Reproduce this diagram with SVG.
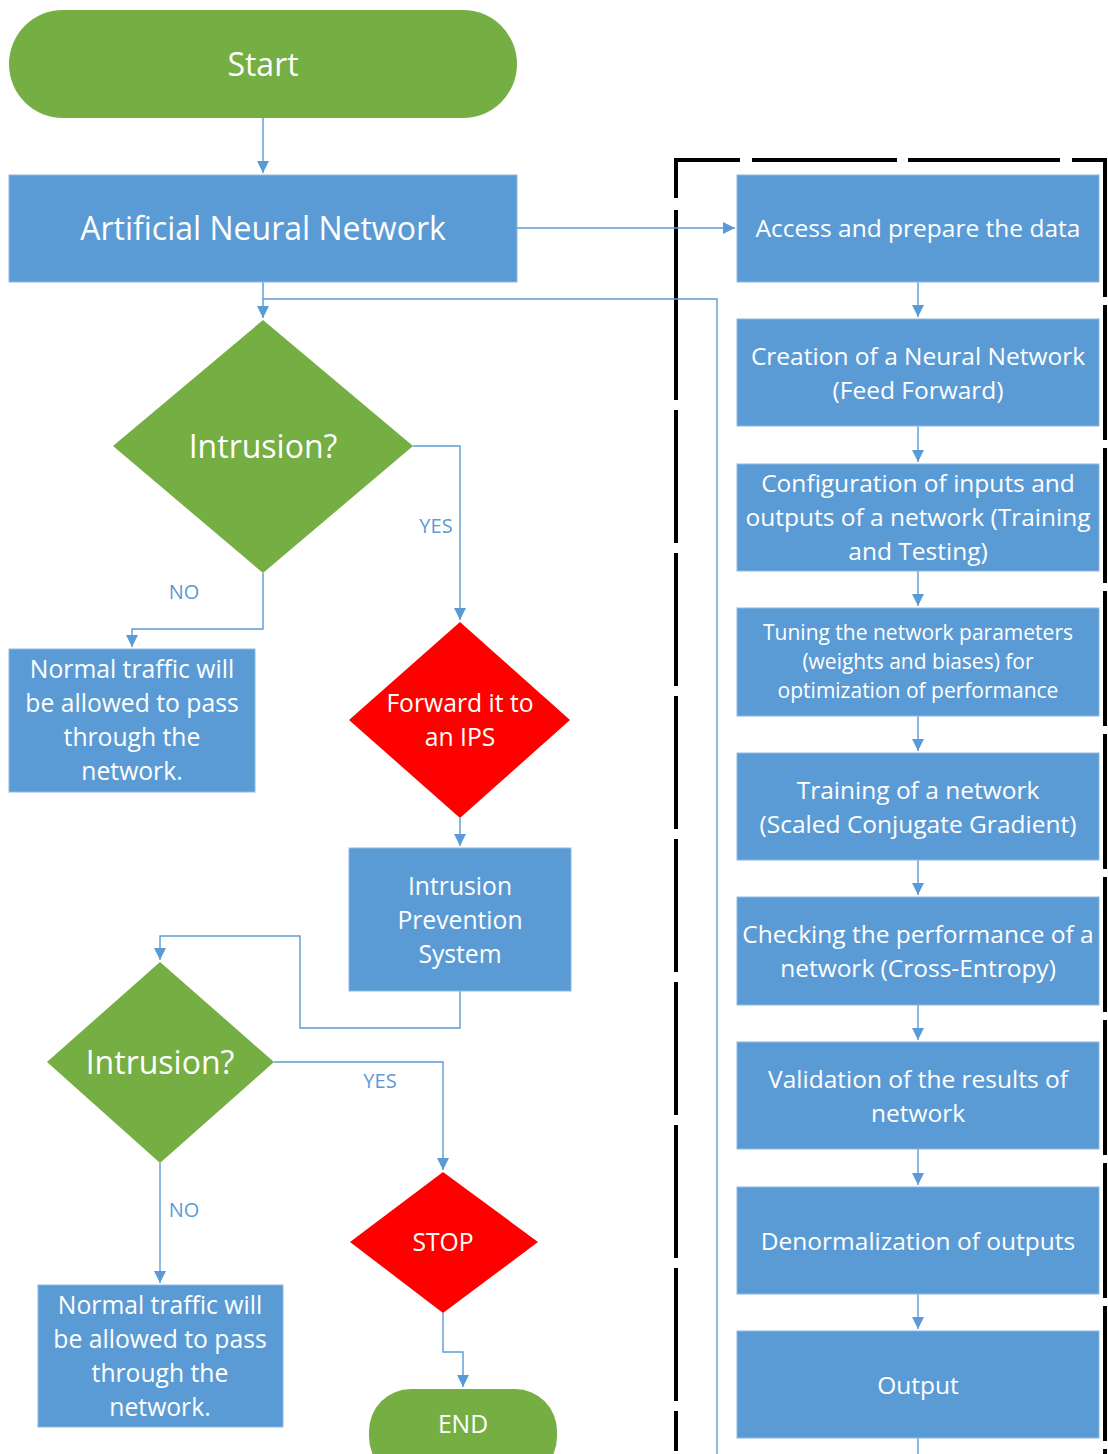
<svg xmlns="http://www.w3.org/2000/svg" width="1108" height="1454" viewBox="0 0 1108 1454">
<defs>
<marker id="ah" viewBox="0 0 10 10" refX="10" refY="5" markerWidth="12" markerHeight="12" markerUnits="userSpaceOnUse" orient="auto">
<path d="M0,0 L10,5 L0,10 z" fill="#5b9bd5"/>
</marker>
<style>
.g{fill:#75ae43}
.b{fill:#5b9bd5;stroke:#8db8e3;stroke-width:1}
.r{fill:#ff0000}
.t{font-family:"Open Sans","Liberation Sans",sans-serif;fill:#ffffff;text-anchor:middle}
.l{font-family:"Open Sans","Liberation Sans",sans-serif;fill:#5b9bd5;text-anchor:middle;font-size:20px}
.c{fill:none;stroke:#5b9bd5;stroke-width:1.4}
.d{fill:none;stroke:#000000;stroke-width:4}
</style>
</defs>
<rect width="1108" height="1454" fill="#ffffff"/>

<g id="frame">
<line class="d" x1="676" y1="160" x2="1105" y2="160" stroke-dasharray="64 12 145 11 152 12 40"/>
<line class="d" x1="676" y1="158" x2="676" y2="1454" stroke-dasharray="40 12 190 10 133 10 133 10 133 10 133 10 133 10 133 10 133 10"/>
<line class="d" x1="1105" y1="158" x2="1105" y2="1454" stroke-dasharray="139 8 135 8 135 8 135 8 135 8 135 8 135 8 135 8 135 8 135 8"/>
</g>

<g id="connectors">
<path class="c" d="M263,118 V173" marker-end="url(#ah)"/>
<path class="c" d="M517,228 H735" marker-end="url(#ah)"/>
<path class="c" d="M263,282 V318" marker-end="url(#ah)"/>
<path class="c" d="M717,1454 V299 H263"/>
<path class="c" d="M413,446 H460 V620" marker-end="url(#ah)"/>
<path class="c" d="M263,573 V629 H132 V647" marker-end="url(#ah)"/>
<path class="c" d="M460,818 V846" marker-end="url(#ah)"/>
<path class="c" d="M460,991 V1028 H300 V936 H160 V960" marker-end="url(#ah)"/>
<path class="c" d="M274,1062 H443 V1170" marker-end="url(#ah)"/>
<path class="c" d="M160,1163 V1283" marker-end="url(#ah)"/>
<path class="c" d="M443,1313 V1352 H463 V1387" marker-end="url(#ah)"/>
<path class="c" d="M918,282 V317" marker-end="url(#ah)"/>
<path class="c" d="M918,426 V462" marker-end="url(#ah)"/>
<path class="c" d="M918,571 V606" marker-end="url(#ah)"/>
<path class="c" d="M918,716 V751" marker-end="url(#ah)"/>
<path class="c" d="M918,860 V895" marker-end="url(#ah)"/>
<path class="c" d="M918,1005 V1040" marker-end="url(#ah)"/>
<path class="c" d="M918,1149 V1185" marker-end="url(#ah)"/>
<path class="c" d="M918,1294 V1329" marker-end="url(#ah)"/>
<path class="c" d="M918,1438 V1454"/>
<text class="l" x="436" y="533">YES</text>
<text class="l" x="184" y="599">NO</text>
<text class="l" x="380" y="1088">YES</text>
<text class="l" x="184" y="1217">NO</text>
</g>

<g id="start">
<rect class="g" x="9" y="10" width="508" height="108" rx="54"/>
<text class="t" x="263" y="76" font-size="32">Start</text>
</g>

<g id="ann">
<rect class="b" x="9" y="175" width="508" height="107"/>
<text class="t" x="263" y="240" font-size="32">Artificial Neural Network</text>
</g>

<g id="intrusion1">
<polygon class="g" points="263,320 413,446 263,573 113,446"/>
<text class="t" x="263" y="458" font-size="32">Intrusion?</text>
</g>

<g id="normal1">
<rect class="b" x="9" y="649" width="246" height="143"/>
<text class="t" font-size="24.7"><tspan x="132" y="678">Normal traffic will</tspan><tspan x="132" y="712">be allowed to pass</tspan><tspan x="132" y="746">through the</tspan><tspan x="132" y="780">network.</tspan></text>
</g>

<g id="forward">
<polygon class="r" points="460,622 570,720 460,818 349,720"/>
<text class="t" font-size="24.7"><tspan x="460" y="712">Forward it to</tspan><tspan x="460" y="746">an IPS</tspan></text>
</g>

<g id="ips">
<rect class="b" x="349" y="848" width="222" height="143"/>
<text class="t" font-size="24.7"><tspan x="460" y="895">Intrusion</tspan><tspan x="460" y="929">Prevention</tspan><tspan x="460" y="963">System</tspan></text>
</g>

<g id="intrusion2">
<polygon class="g" points="160,962 274,1062 160,1163 47,1062"/>
<text class="t" x="160" y="1074" font-size="32">Intrusion?</text>
</g>

<g id="normal2">
<rect class="b" x="38" y="1285" width="245" height="142"/>
<text class="t" font-size="24.7"><tspan x="160" y="1314">Normal traffic will</tspan><tspan x="160" y="1348">be allowed to pass</tspan><tspan x="160" y="1382">through the</tspan><tspan x="160" y="1416">network.</tspan></text>
</g>

<g id="stop">
<polygon class="r" points="443,1172 538,1242 443,1313 350,1242"/>
<text class="t" x="443" y="1251" font-size="24.7">STOP</text>
</g>

<g id="end">
<rect class="g" x="369" y="1389" width="188" height="90" rx="42"/>
<text class="t" x="463" y="1433" font-size="24.7">END</text>
</g>

<g id="step1">
<rect class="b" x="737" y="175" width="362" height="107"/>
<text class="t" x="918" y="237" font-size="24.5">Access and prepare the data</text>
</g>
<g id="step2">
<rect class="b" x="737" y="319" width="362" height="107"/>
<text class="t" font-size="24.5"><tspan x="918" y="365">Creation of a Neural Network</tspan><tspan x="918" y="399">(Feed Forward)</tspan></text>
</g>
<g id="step3">
<rect class="b" x="737" y="464" width="362" height="107"/>
<text class="t" font-size="24.5"><tspan x="918" y="492">Configuration of inputs and</tspan><tspan x="918" y="526">outputs of a network (Training</tspan><tspan x="918" y="560">and Testing)</tspan></text>
</g>
<g id="step4">
<rect class="b" x="737" y="608" width="362" height="108"/>
<text class="t" font-size="21"><tspan x="918" y="640">Tuning the network parameters</tspan><tspan x="918" y="669">(weights and biases) for</tspan><tspan x="918" y="698">optimization of performance</tspan></text>
</g>
<g id="step5">
<rect class="b" x="737" y="753" width="362" height="107"/>
<text class="t" font-size="24.5"><tspan x="918" y="799">Training of a network</tspan><tspan x="918" y="833">(Scaled Conjugate Gradient)</tspan></text>
</g>
<g id="step6">
<rect class="b" x="737" y="897" width="362" height="108"/>
<text class="t" font-size="24.5"><tspan x="918" y="943">Checking the performance of a</tspan><tspan x="918" y="977">network (Cross-Entropy)</tspan></text>
</g>
<g id="step7">
<rect class="b" x="737" y="1042" width="362" height="107"/>
<text class="t" font-size="24.5"><tspan x="918" y="1088">Validation of the results of</tspan><tspan x="918" y="1122">network</tspan></text>
</g>
<g id="step8">
<rect class="b" x="737" y="1187" width="362" height="107"/>
<text class="t" x="918" y="1250" font-size="24.5">Denormalization of outputs</text>
</g>
<g id="step9">
<rect class="b" x="737" y="1331" width="362" height="107"/>
<text class="t" x="918" y="1394" font-size="24.5">Output</text>
</g>
</svg>
